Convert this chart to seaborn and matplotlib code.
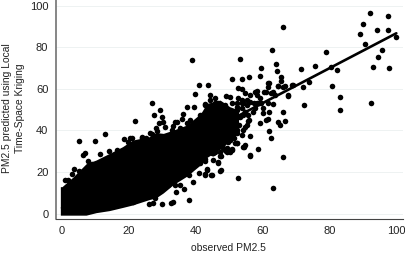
import matplotlib
matplotlib.use("Agg")
import matplotlib.pyplot as plt
import pandas as pd
import seaborn as sns

observed = [
    92.0, 97.5, 90.0, 94.1, 97.4, 89.1, 100, 90.5, 95.8, 94.4, 93, 97.9, 92.5, 66.2, 62.9, 53.2,
    78.9, 75.6, 80.5, 82.4, 71.5, 64.1, 64.4, 59.4, 59.1, 56, 53.9, 50.9, 43.6, 65.6, 65.6, 61.8,
    73.8, 69, 72.1, 80.7, 83.1, 83.2, 72.3, 67.5, 66.1, 66.6, 64.6, 65.1, 61.7, 59.3, 55.6, 63.1,
    61.9, 60.1, 52.7, 53.7, 49.2, 50.2, 44.4, 45.7, 54.7, 56.2, 58.2, 58.2, 61.6, 61.1, 62.6, 64.6,
    66.1, 63.6, 59.1, 52.7, 53.7, 55.2, 52.2, 54.2, 56.2, 58.2, 59.6, 61.6, 57.7, 53.7, 52.2, 54.7,
    60.1, 44.2, 45.7, 47.2, 42.7, 55.7, 52.7, 54.2, 57.2, 51.7, 55.2, 50.7, 61.1,
    38.9, 41, 39.9, 26.8, 29.4, 37.5, 39.4, 27.5, 29.8, 36.2, 35.8, 21.9, 30.3, 29.1, 30.8, 34.3,
    33.3, 38.3, 37.3, 41.3, 40.8, 42.8, 28.1, 26.3, 23.8, 25.1, 33.8, 20.8, 32.8, 35.3, 38.3,
    5.1, 9.9, 12.8, 6.9, 6.4, 0.9, 1.9, 3.6, 5.1, 2.9, 11.4, 14.1, 16.3, 7.9, 8.9,
    18.6, 20.3, 19.8, 23.8, 25.3, 26.8, 28.3, 17.3,
    29.9, 32.5, 33.3, 37.9, 34, 36.5, 35.3, 33.8, 31.8, 29.8, 39.3, 38, 41, 38.3, 26, 27.3, 27.8,
    28.3, 21.3, 52.6, 42.8, 44.8, 43.3, 47.5, 45.3, 47.5, 42.8, 45.3, 46.8, 41.3, 50.2, 49.4, 50.7,
    52.2, 54.4, 51.2, 47.8, 50.2, 56.2, 61.8, 62.5, 56.1, 54.6, 54.1, 58.6, 56.2, 66.2, 63.2,
    44.7, 42.9, 47.4, 43.4, 47.4, 46.7, 45.2, 50.7, 49.2, 48.2, 52.2, 50.2, 48.2, 54.2, 52.2, 42.7,
    57.8, 60.3, 61.7, 63.2, 64.7, 66.7, 68.9, 67.7, 46.8, 48.8, 50.8, 52.3, 53.8, 55.3, 57.3, 58.8,
    54.8, 53.3, 51.8, 55.8, 52.8, 54.8, 52.3, 53.8, 51.3, 49.8, 51.8, 47.8, 48.8, 50.3, 47.3, 45.8,
    44.8, 49.3, 43.8,
]
predicted = [
    96.3, 94.9, 91.2, 88.5, 88.2, 86.5, 85.1, 81.4, 78.8, 75.3, 70.5, 70.0, 53.2, 89.9, 78.8, 74.5,
    77.9, 71.2, 70.7, 69.2, 69.6, 72, 68.8, 70.2, 66.1, 65.6, 64.9, 64.9, 61.7, 65.6, 63.8, 63,
    63.2, 61.7, 61, 61.2, 56.1, 49.9, 52.3, 56.7, 49, 44.7, 44.2, 42.6, 45.5, 43.5, 44.7, 52.7,
    49, 48.6, 60.2, 59.7, 56.5, 56.2, 57, 55.4, 57.8, 57, 59.1, 57, 60.7, 58.6, 57.8, 61.3,
    60.7, 57, 55.4, 55.4, 54.6, 54.6, 53, 53, 53.8, 53, 53, 53, 50.6, 50.6, 49.8, 49,
    50.6, 54.6, 53, 51.4, 52.2, 47.4, 46.6, 47.4, 49, 43.4, 42.6, 42.6, 45,
    74.0, 61.7, 57.7, 53.2, 49.7, 51.1, 51.4, 47.4, 46.3, 47.9, 45.7, 44.7, 44.2, 43.4, 41.8, 44.2,
    42.1, 45, 43.4, 47.4, 45, 52.6, 41, 38.6, 36.7, 36.2, 44.2, 36.5, 40.2, 41, 41.8,
    34.8, 35, 38.2, 29.2, 28.4, 16.4, 16.4, 21.3, 20.4, 19.2, 28.7, 30, 30.5, 25.2, 23.9,
    36, 36.4, 34.5, 36.4, 35.6, 38.3, 39.9, 29.2,
    4.7, 5.1, 5.6, 6.4, 10.3, 11.9, 14, 14, 14, 12.7, 15.2, 18.4, 19.6, 22.3, 4.7, 5.1, 7.5,
    9.9, 5.6, 17.3, 18.9, 18.6, 21.3, 21, 29.3, 27.7, 26.3, 25.8, 24.5, 24.2, 30.6, 29.8, 30.9,
    33.8, 32.2, 37.8, 33, 35.4, 28.2, 39.9, 36.2, 37.2, 33.2, 32.1, 30.9, 27.7, 27.1, 12.2,
    18.4, 18.4, 20.4, 21.2, 27.6, 24.7, 29.2, 30.8, 30, 31.6, 34, 35.6, 36.4, 40.4, 40.4, 25.2,
    58.7, 58.7, 62.7, 58.7, 61.4, 61.4, 61.9, 57.1, 53, 52.3, 53, 51.5, 53, 52.3, 53, 53,
    49, 46.7, 45, 45, 42.6, 41.8, 38.6, 37.8, 36.2, 34.6, 33.8, 33, 30.6, 29.8, 29.8, 29.8,
    29, 31.4, 30.6,
]

# saturated part of the cloud, where single dots cannot be told apart
dense_x = [-0.5, 0, 3.2, 7.2, 10.2, 14.2, 18.1, 21.1, 26.1, 28.1, 30.3, 33.3, 37.3, 40.3, 41.8,
           43.3, 47.3, 50.2, 52.8]
dense_upper = [13, 13, 17.5, 24, 25.8, 29, 32.2, 35.4, 37, 39, 38.6, 40.2, 42.6, 46.6, 49, 53,
               54.6, 51.4, 49.9]
dense_lower = [-0.7, -0.7, -0.7, -0.7, 0.5, 1.5, 3, 4.2, 6.8, 7.6, 10, 14, 18, 22, 24, 27, 31,
               35, 40]

fit_x = [0, 100]
fit_y = [2.8, 86.7]

ticks = [0, 20, 40, 60, 80, 100]

sns.set_style("white")
plt.rcParams["font.family"] = ["Liberation Sans", "DejaVu Sans"]

fig = plt.figure(figsize=(4.06, 2.57), dpi=100)
ax = fig.add_axes([56 / 406, 1 - 218.7 / 257, 347 / 406, 218.7 / 257])

ax.fill_between(dense_x, dense_lower, dense_upper, color="black", linewidth=0, zorder=2)
points = pd.DataFrame({"observed": observed, "predicted": predicted})
sns.scatterplot(data=points, x="observed", y="predicted", color="black", s=16, linewidth=0,
                ax=ax, zorder=3, clip_on=False)
sns.lineplot(x=fit_x, y=fit_y, color="black", linewidth=1.9, ax=ax, zorder=4)

ax.set_xlim(-1.8, 102)
ax.set_ylim(-2.4, 102.7)
ax.set_xticks(ticks)
ax.set_yticks(ticks)
ax.tick_params(axis="both", length=3, width=0.6, color="#333333", labelsize=8, labelcolor="#222222", pad=2.5)
ax.yaxis.grid(True, color="#eef2f2", linewidth=0.7)
ax.set_axisbelow(True)

sns.despine(ax=ax)
ax.spines["left"].set_color("#666666")
ax.spines["left"].set_linewidth(1.1)
ax.spines["bottom"].set_color("#444444")
ax.spines["bottom"].set_linewidth(0.8)

ax.set_xlabel("")
ax.set_ylabel("")
fig.text(228 / 406, 1 - 248 / 257, "observed PM2.5", fontsize=7.4, color="#222222", ha="center", va="center")
fig.text(13.5 / 406, 1 - 108 / 257, "PM2.5 predicted using Local\nTime-Space Kriging", fontsize=7.4,
         color="#222222", rotation=90, ha="center", va="center", linespacing=1.3, multialignment="center")

fig.savefig("out.png", dpi=100)
